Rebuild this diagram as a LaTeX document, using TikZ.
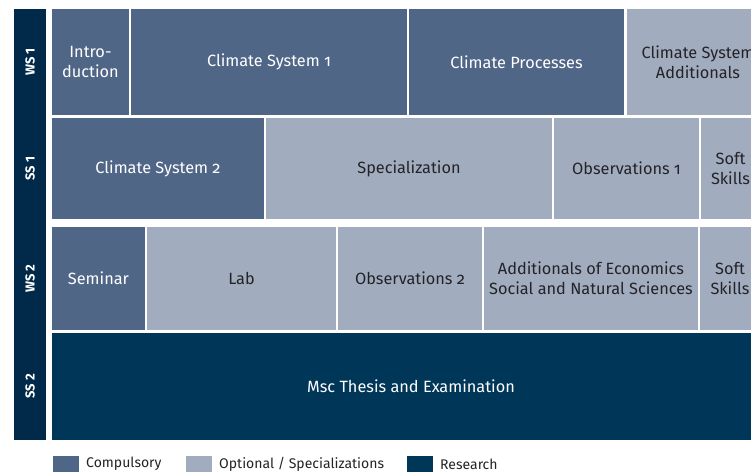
\documentclass[tikz,border=0pt]{standalone}
\usepackage{fontspec}
\setmainfont{Fira Sans}[Numbers=OldStyle]
\definecolor{barblue}{RGB}{0,41,74}
\definecolor{compblue}{RGB}{80,102,135}
\definecolor{optgray}{RGB}{162,172,191}
\definecolor{resblue}{RGB}{0,54,88}
\definecolor{textgray}{RGB}{35,35,40}
\begin{document}
\begin{tikzpicture}[x=1pt,y=-1pt,
    box/.style={anchor=north west, inner sep=0pt, outer sep=0pt, align=center,
      font=\fontsize{16.3}{20}\selectfont},
    comp/.style={box, fill=compblue, text=white},
    opt/.style={box, fill=optgray, text=textgray},
    res/.style={box, fill=resblue, text=white},
    term/.style={rotate=90, text=white, font=\fontsize{13}{15}\selectfont\bfseries\addfontfeatures{Numbers=Lining}},
    key/.style={anchor=north west, inner sep=0pt, minimum width=26pt, minimum height=16pt},
    keytext/.style={anchor=west, inner sep=0pt, text=textgray, font=\fontsize{14}{16}\selectfont}]
  \clip (0,0) rectangle (751,473);
    \node [anchor=north west, fill=barblue, inner sep=0pt, minimum width=32pt, minimum height=431pt] (bar) at (14,9) {};
    \node [term] (ws1) at (30,62) {WS 1};
    \node [term] (ss1) at (30,168.5) {SS 1};
    \node [term] (ws2) at (30,278.5) {WS 2};
    \node [term] (ss2) at (30,386.5) {SS 2};
    \node [comp, minimum width=77pt, minimum height=106pt] (intro) at (52,9) {Intro-\\duction};
    \node [comp, minimum width=276pt, minimum height=106pt] (cs1) at (131,9) {Climate System 1};
    \node [comp, minimum width=215pt, minimum height=106pt] (proc) at (409,9) {Climate Processes};
    \node [opt, minimum width=142pt, minimum height=106pt] (csadd) at (627,9) {Climate System\\Additionals};
    \node [comp, minimum width=212pt, minimum height=101pt] (cs2) at (52,118) {Climate System 2};
    \node [opt, minimum width=286pt, minimum height=101pt] (spec) at (266,118) {Specialization};
    \node [opt, minimum width=145pt, minimum height=101pt] (obs1) at (554,118) {Observations 1};
    \node [opt, minimum width=59pt, minimum height=101pt] (soft1) at (701,118) {Soft\\Skills};
    \node [comp, minimum width=93pt, minimum height=103pt] (seminar) at (52,227) {Seminar};
    \node [opt, minimum width=189pt, minimum height=103pt] (lab) at (147,227) {Lab};
    \node [opt, minimum width=144pt, minimum height=103pt] (obs2) at (338,227) {Observations 2};
    \node [opt, minimum width=214pt, minimum height=103pt] (addeco) at (484,227) {Additionals of Economics\\Social and Natural Sciences};
    \node [opt, minimum width=60pt, minimum height=103pt] (soft2) at (700,227) {Soft\\Skills};
    \node [res, minimum width=718pt, minimum height=107pt] (thesis) at (52,333) {Msc Thesis and Examination};
    \node [key, fill=compblue] (kcomp) at (53,456) {};
    \node [keytext] (tcomp) at (86,464) {Compulsory};
    \node [key, fill=optgray] (kopt) at (186,456) {};
    \node [keytext] (topt) at (219,464) {Optional / Specializations};
    \node [key, fill=resblue] (kres) at (407,456) {};
    \node [keytext] (tres) at (440,464) {Research};
  \end{tikzpicture}
\end{document}
